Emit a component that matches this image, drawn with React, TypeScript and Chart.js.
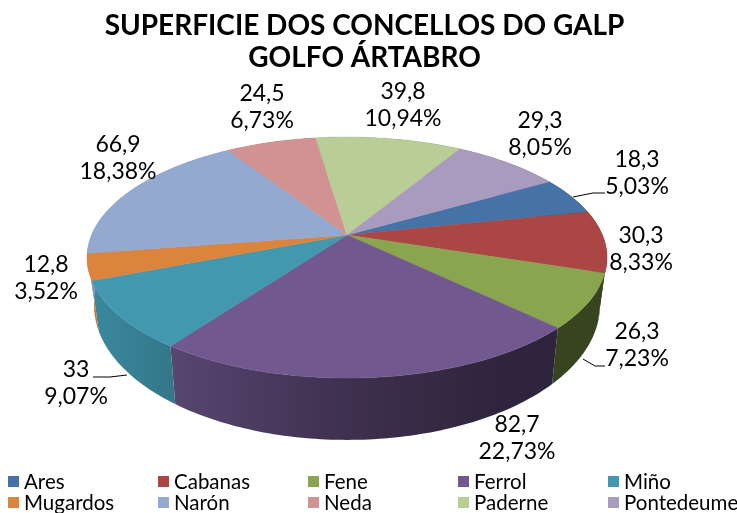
import React, { useEffect, useRef } from "react";
import { Chart, registerables } from "chart.js";

Chart.register(...registerables);

const categories = ["Ares", "Cabanas", "Fene", "Ferrol", "Miño", "Mugardos", "Narón", "Neda", "Paderne", "Pontedeume"];
const values = [18.3, 30.3, 26.3, 82.7, 33, 12.8, 66.9, 24.5, 39.8, 29.3];
const colors = ["#4572A7", "#AA4643", "#89A54E", "#71588F", "#4198AF", "#DB843D", "#93A9CF", "#D19392", "#B9CD96", "#A99BBD"];
const titleLines = ["SUPERFICIE DOS CONCELLOS DO GALP", "GOLFO ÁRTABRO"];
const FONT = 'Lato, sans-serif';

// Centre of each two-line data label on the page
const labelCentres: [number, number][] = [
  [637, 173.5], [641, 249.5], [637, 345], [517, 438.5], [76, 383],
  [46, 278], [118, 158.5], [262, 107.5], [403, 105.5], [540, 134.5],
];
// Thin leader lines (Ares, Fene, Miño)
const leaders: [number, number][][] = [
  [[573, 197], [593, 193], [605, 193]],
  [[583, 359], [595, 366], [605, 366]],
  [[127, 375], [110, 377], [93, 377]],
];

// Perspective of the pie disc
const CX = 347, CY = 235, C = 255.4, B = 116.3, K = -0.187;
const BOTTOM_CY = 280, BOTTOM_B = 130, BOTTOM_C = 248.5;

const topRim = (t: number): [number, number] => {
  const X = Math.cos(t), Y = Math.sin(t), w = 1 + K * Y;
  return [CX + (C * X) / w, CY + (B * Y) / w];
};
const bottomRim = (t: number): [number, number] => {
  const X = Math.cos(t), Y = Math.sin(t), w = 1 + K * Y;
  return [CX + (BOTTOM_C * X) / w, BOTTOM_CY + (BOTTOM_B * Y) / w];
};

const shade = (hex: string, f: number) => {
  const n = parseInt(hex.slice(1), 16);
  return `rgb(${Math.round((n >> 16) * f)},${Math.round(((n >> 8) & 255) * f)},${Math.round((n & 255) * f)})`;
};

const sample = (a: number, b: number, fn: (t: number) => [number, number]) => {
  const n = Math.max(2, Math.ceil(Math.abs(b - a) / (Math.PI / 180)));
  const pts: [number, number][] = [];
  for (let i = 0; i <= n; i++) pts.push(fn(a + ((b - a) * i) / n));
  return pts;
};

const pie3d = {
  id: "pie3d",
  beforeDatasetsDraw(chart: any) {
    const ctx: CanvasRenderingContext2D = chart.ctx;
    const arcs = chart.getDatasetMeta(0).data;
    ctx.save();
    // outer walls
    arcs.forEach((arc: any, i: number) => {
      const top = sample(arc.startAngle, arc.endAngle, topRim);
      const bot = sample(arc.endAngle, arc.startAngle, bottomRim);
      const g = ctx.createLinearGradient(87, 0, 607, 0);
      g.addColorStop(0, shade(colors[i], 0.9));
      g.addColorStop(0.17, shade(colors[i], 0.78));
      g.addColorStop(0.5, shade(colors[i], 0.55));
      g.addColorStop(0.8, shade(colors[i], 0.41));
      g.addColorStop(1, shade(colors[i], 0.41));
      ctx.beginPath();
      [...top, ...bot].forEach((p, j) => (j ? ctx.lineTo(p[0], p[1]) : ctx.moveTo(p[0], p[1])));
      ctx.closePath();
      ctx.fillStyle = g;
      ctx.fill();
    });
    // top faces
    arcs.forEach((arc: any, i: number) => {
      const pts = sample(arc.startAngle, arc.endAngle, topRim);
      ctx.beginPath();
      ctx.moveTo(CX, CY);
      pts.forEach((p) => ctx.lineTo(p[0], p[1]));
      ctx.closePath();
      ctx.fillStyle = colors[i];
      ctx.strokeStyle = colors[i];
      ctx.lineWidth = 0.5;
      ctx.fill();
      ctx.stroke();
    });
    // leaders
    ctx.strokeStyle = "#000";
    ctx.lineWidth = 1;
    leaders.forEach((l) => {
      ctx.beginPath();
      l.forEach((p, j) => (j ? ctx.lineTo(p[0], p[1]) : ctx.moveTo(p[0], p[1])));
      ctx.stroke();
    });
    // data labels
    const total = values.reduce((a, b) => a + b, 0);
    ctx.fillStyle = "#000";
    ctx.font = `23px ${FONT}`;
    ctx.textAlign = "center";
    ctx.textBaseline = "middle";
    values.forEach((v, i) => {
      const [x, y] = labelCentres[i];
      ctx.fillText(String(v).replace(".", ","), x, y - 13.5);
      ctx.fillText(((v / total) * 100).toFixed(2).replace(".", ",") + "%", x, y + 13.5);
    });
    // legend
    ctx.textAlign = "left";
    ctx.font = `20.5px ${FONT}`;
    categories.forEach((c, i) => {
      const col = i % 5, row = Math.floor(i / 5);
      const x = 8 + col * 150, y = 482 + row * 21;
      ctx.fillStyle = colors[i];
      ctx.fillRect(x, y - 6, 11, 11);
      ctx.fillStyle = "#000";
      ctx.fillText(c, x + 16, y);
    });
    ctx.restore();
    return false;
  },
};

export default function App() {
  const ref = useRef<HTMLCanvasElement>(null);
  useEffect(() => {
    const chart = new Chart(ref.current!, {
      type: "pie",
      data: { labels: categories, datasets: [{ data: values, backgroundColor: colors }] },
      options: {
        responsive: false,
        animation: false,
        rotation: 60,
        layout: { padding: { right: 8, top: 0 } },
        plugins: {
          legend: { display: false },
          tooltip: { enabled: false },
          title: {
            display: true,
            text: titleLines,
            color: "#000",
            font: { family: FONT, size: 28, weight: "bold", lineHeight: 1.143 },
            padding: { top: 10, bottom: 0 },
          },
        },
      },
      plugins: [pie3d],
    } as any);
    return () => chart.destroy();
  }, []);
  return (
    <canvas
      ref={ref}
      width={737}
      height={513}
      style={{ position: "absolute", left: 0, top: 0, width: 737, height: 513, display: "block", background: "#fff" }}
    />
  );
}
